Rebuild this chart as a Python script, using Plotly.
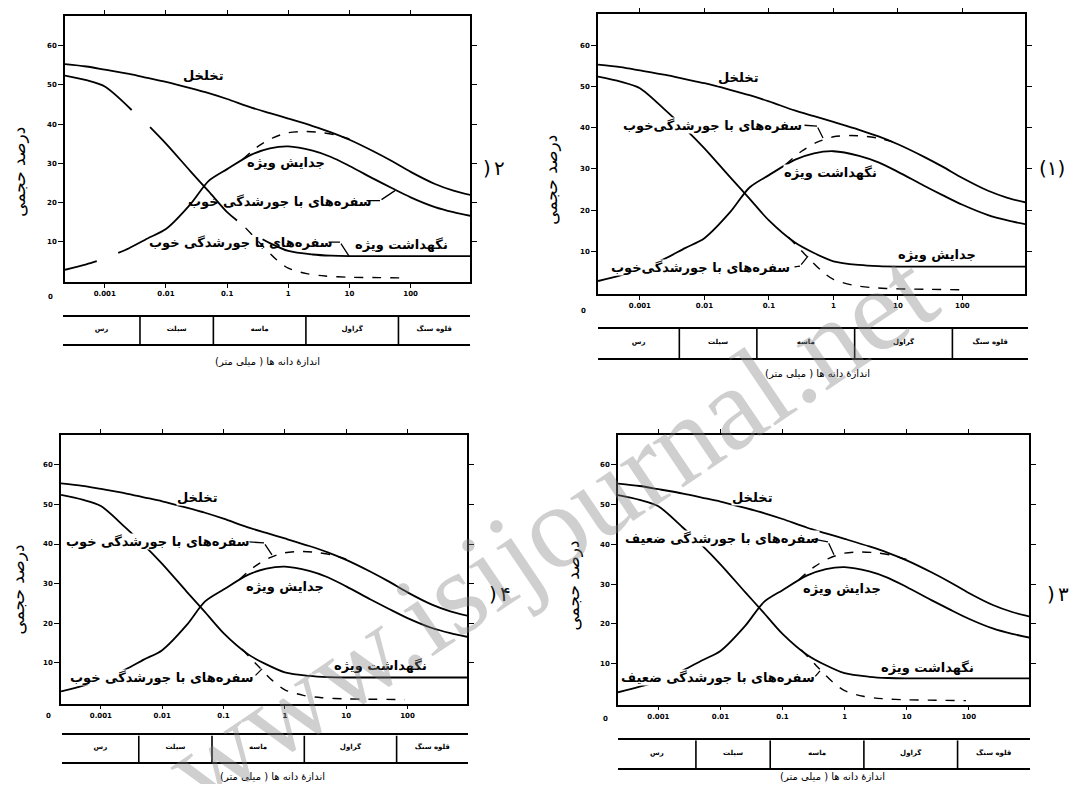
import numpy as np
import plotly.graph_objects as go

W, H = 1079, 792
PAD = 8                      # حاشیه پیش فرض body در صفحه html
FIG_W, FIG_H = W - 2 * PAD, H - 2 * PAD

# اندازه دانه (میلی متر) و درصد حجمی
GRAIN_MM = [0.000224, 0.0005, 0.001, 0.0025, 0.005, 0.01, 0.025, 0.05, 0.1, 0.25, 0.5,
            1, 2.5, 5, 10, 25, 50, 100, 250, 500, 1000]
POROSITY = [55.3, 54.7, 53.9, 52.8, 51.8, 50.8, 49.2, 47.9, 46.4, 44.2, 42.8,
            41.4, 39.5, 37.9, 36.0, 33.0, 30.5, 27.8, 24.7, 23.0, 21.8]
HUMP = [2.8, 4.2, 5.6, 8.3, 10.8, 13.2, 19.5, 25.5, 28.5, 32.2, 33.8,
        34.3, 33.2, 31.6, 29.3, 26.0, 23.6, 21.3, 18.8, 17.5, 16.5]
FALLING = [52.4, 51.2, 49.6, 44.2, 39.8, 35.0, 28.0, 22.8, 17.5, 12.2, 9.6,
           7.6, 6.7, 6.4, 6.3, 6.3, 6.3, 6.3, 6.3, 6.3, 6.3]

# خط چین ها (جورشدگی خوب)
UPPER_DASH_MM = [0.18, 0.32, 0.56, 1, 1.8, 3.2, 5.6, 10]
UPPER_DASH = [31.0, 34.3, 36.5, 37.8, 38.1, 37.9, 37.3, 36.2]
LOWER_DASH_MM = [0.2, 0.35, 0.63, 1, 2, 4, 10, 30, 90]
LOWER_DASH = [13.5, 9.5, 5.5, 3.2, 1.8, 1.2, 0.9, 0.8, 0.7]

# شکل (۲): منحنی های بریده
P2_HUMP_MM = [0.000224, 0.0005, 0.00074, None, 0.00166, 0.0025, 0.005, 0.01, 0.025, 0.05, 0.1,
              0.25, 0.5, 1, 2.5, 5, 10, 25, 50, 100, 250, 500, 1000]
P2_HUMP = [2.8, 4.2, 5.0, None, 7.1, 8.3, 10.8, 13.2, 19.5, 25.5, 28.5,
           32.2, 33.8, 34.3, 33.2, 31.6, 29.3, 26.0, 23.6, 21.3, 18.8, 17.5, 16.5]
P2_FALL_MM = [0.000224, 0.0005, 0.001, 0.00275, None, 0.0055, 0.01, 0.025, 0.05, 0.1, 0.145,
              None, 0.38, 0.5, 1, 2.5, 5, 10, 100, 1000]
P2_FALL = [52.4, 51.2, 49.6, 43.6, None, 39.2, 35.0, 28.0, 22.8, 17.5, 15.4,
           None, 10.6, 9.6, 7.6, 6.7, 6.4, 6.3, 6.3, 6.3]

# جدول رده بندی دانه ها
CLASS_EDGES_MM = [0.004, 0.0625, 2, 64]
CLASS_NAMES = ['رس', 'سیلت', 'ماسه', 'گراول', 'قلوه سنگ']

X_TICKS = [0.001, 0.01, 0.1, 1, 10, 100]
X_TICK_TEXT = ['0.001', '0.01', '0.1', '1', '10', '100']
Y_TICKS = [10, 20, 30, 40, 50, 60]

X_RANGE = [-3.65, 2.97]
Y_RANGE = [-0.3, 67.6]

T_POR = 'تخلخل'
T_SY = 'جدایش ویژه'
T_SR = 'نگهداشت ویژه'
T_GOOD = 'سفره‌های با جورشدگی خوب'
T_GOOD1 = 'سفره‌های با جورشدگی‌خوب'
T_POOR = 'سفره‌های با جورشدگی ضعیف'
Y_TITLE = 'درصد حجمی'
X_TITLE = 'اندازهٔ دانه ها ( میلی متر)'
PAREN = ')'   # در متن راست به چپ آینه ای نمایش داده می شود

FONT = 'DejaVu Sans'

# جای هر شکل روی صفحه (پیکسل)؛ شماره شکل تکه تکه نوشته می شود
PANELS = [
    dict(tag=[(PAREN, 487, 163), ('۲', 499, 163)],
         plot=(65, 10, 470, 278), table=(63, 313, 470, 341), broken=True,
         ytitle=(19, 167), xtitle=(267, 358), zero=(50, 293),
         labels=[(T_POR, 203, 70), (T_SY, 286, 158), (T_GOOD, 280, 197),
                 (T_GOOD, 241, 238), (T_SR, 401, 240)],
         leaders=[[(365, 196), (380, 196), (395, 186)], [(327, 238), (340, 238), (349, 252)]]),
    dict(tag=[('(۱)', 1052, 163)],
         plot=(598, 8, 1025, 290), table=(598, 325, 1028, 355), broken=False,
         ytitle=(551, 175), xtitle=(817, 370), zero=(583, 307),
         labels=[(T_POR, 738, 72), (T_GOOD1, 712, 120), (T_SR, 830, 168),
                 (T_SY, 937, 250), (T_GOOD1, 700, 263)],
         leaders=[[(803, 120), (817, 121), (823, 133)], [(793, 263), (800, 262), (808, 252)]]),
    dict(tag=[(PAREN, 493, 593), ('۴', 505, 593)],
         plot=(61, 432, 467, 703), table=(62, 735, 468, 762), broken=False,
         ytitle=(18, 588), xtitle=(272, 776), zero=(48, 715),
         labels=[(T_POR, 197, 495), (T_GOOD, 158, 540), (T_SY, 285, 585),
                 (T_SR, 380, 665), (T_GOOD, 162, 677)],
         leaders=[[(248, 540), (264, 541), (272, 553)], [(254, 676), (262, 668)]]),
    dict(tag=[(PAREN, 1051, 593), ('۳', 1063, 593)],
         plot=(618, 432, 1029, 704), table=(618, 740, 1030, 768), broken=False,
         ytitle=(573, 584), xtitle=(832, 776), zero=(605, 718),
         labels=[(T_POR, 752, 495), (T_POOR, 722, 537), (T_SY, 842, 587),
                 (T_SR, 927, 667), (T_POOR, 718, 677)],
         leaders=[[(812, 537), (828, 540), (834, 553)], [(814, 677), (820, 670)]]),
]


def fx(px):
    return (px - PAD) / FIG_W


def fy(py):
    return 1 - (py - PAD) / FIG_H


def clamp(v):
    return min(1.0, max(0.0, v))


def text_at(txt, px, py, size, bold=False, angle=0, bg='rgba(0,0,0,0)', color='black',
            family=FONT):
    return dict(text=txt, x=fx(px), y=fy(py), xref='paper', yref='paper',
                xanchor='center', yanchor='middle', showarrow=False, textangle=angle,
                bgcolor=bg, borderpad=0,
                font=dict(family=family, size=size, color=color,
                          weight='bold' if bold else 'normal'))


def curve(xs, ys, n, dash='solid', width=1.8):
    return go.Scatter(
        x=xs, y=ys, xaxis=f'x{n}', yaxis=f'y{n}', mode='lines',
        line=dict(color='black', width=width, dash=dash, shape='spline', smoothing=0.8),
        showlegend=False, hoverinfo='skip', connectgaps=False)


fig = go.Figure()
layout = dict(width=FIG_W, height=FIG_H, margin=dict(l=0, r=0, t=0, b=0),
              paper_bgcolor='white', plot_bgcolor='white', showlegend=False)
annotations = []

# مرز رده ها و مرکز هر خانه جدول
edges = [10 ** X_RANGE[0]] + CLASS_EDGES_MM + [10 ** X_RANGE[1]]
centers = [float(np.sqrt(edges[i] * edges[i + 1])) for i in range(len(edges) - 1)]
div_x, div_y = [], []
for b in CLASS_EDGES_MM:
    div_x += [b, b, None]
    div_y += [0, 1, None]

for i, p in enumerate(PANELS):
    n = i + 1      # محور نمودار
    m = i + 5      # محور جدول
    x0, y0, x1, y1 = p['plot']
    tx0, ty0, tx1, ty1 = p['table']

    layout[f'xaxis{n}'] = dict(
        domain=[clamp(fx(x0)), clamp(fx(x1))], anchor=f'y{n}', type='log', range=X_RANGE,
        tickvals=X_TICKS, ticktext=X_TICK_TEXT, ticks='outside', ticklen=4,
        tickwidth=1, tickcolor='black', showline=True, linecolor='black', linewidth=1.6,
        mirror='ticks', showgrid=False, zeroline=False,
        tickfont=dict(family=FONT, size=7, color='black', weight='bold'))
    layout[f'yaxis{n}'] = dict(
        domain=[clamp(fy(y1)), clamp(fy(y0))], anchor=f'x{n}', range=Y_RANGE,
        tickvals=Y_TICKS, ticks='outside', ticklen=5, tickwidth=1, tickcolor='black',
        showline=True, linecolor='black', linewidth=1.6, mirror='ticks',
        showgrid=False, zeroline=False,
        tickfont=dict(family=FONT, size=7, color='black', weight='bold'))
    layout[f'xaxis{m}'] = dict(
        domain=[clamp(fx(tx0)), clamp(fx(tx1))], anchor=f'y{m}', type='log', range=X_RANGE,
        showline=True, linecolor='black', linewidth=2, mirror=True,
        showticklabels=False, ticks='', showgrid=False, zeroline=False)
    layout[f'yaxis{m}'] = dict(
        domain=[clamp(fy(ty1)), clamp(fy(ty0))], anchor=f'x{m}', range=[0, 1],
        showline=False, showticklabels=False, ticks='', showgrid=False, zeroline=False)

    # منحنی ها
    fig.add_trace(curve(GRAIN_MM, POROSITY, n))
    if p['broken']:
        fig.add_trace(curve(P2_HUMP_MM, P2_HUMP, n))
        fig.add_trace(curve(P2_FALL_MM, P2_FALL, n))
    else:
        fig.add_trace(curve(GRAIN_MM, HUMP, n))
        fig.add_trace(curve(GRAIN_MM, FALLING, n))
    fig.add_trace(curve(UPPER_DASH_MM, UPPER_DASH, n, dash='dash', width=1.4))
    fig.add_trace(curve(LOWER_DASH_MM, LOWER_DASH, n, dash='dash', width=1.4))

    # جدول
    fig.add_trace(go.Scatter(x=div_x, y=div_y, xaxis=f'x{m}', yaxis=f'y{m}', mode='lines',
                             line=dict(color='black', width=1.6), hoverinfo='skip'))
    fig.add_trace(go.Scatter(x=centers, y=[0.55] * len(centers), xaxis=f'x{m}', yaxis=f'y{m}',
                             mode='text', text=CLASS_NAMES, hoverinfo='skip',
                             textfont=dict(family=FONT, size=7, color='black', weight='bold')))

    # برچسب ها
    bg = 'rgba(0,0,0,0)' if p['broken'] else 'white'
    for txt, lx, ly in p['labels']:
        annotations.append(text_at(txt, lx, ly, 13, bold=True, bg=bg))
    for pts in p['leaders']:
        for (ax_, ay_), (bx, by) in zip(pts[:-1], pts[1:]):
            annotations.append(dict(
                text='', x=fx(bx), y=fy(by), xref='paper', yref='paper',
                ax=ax_ - bx, ay=ay_ - by, showarrow=True, arrowhead=0,
                arrowwidth=1.3, arrowcolor='black', standoff=0, startstandoff=0))

    for txt, tx, ty in p['tag']:
        annotations.append(text_at(txt, tx, ty, 20))
    annotations.append(text_at(Y_TITLE, *p['ytitle'], 17, angle=-90))
    annotations.append(text_at(X_TITLE, *p['xtitle'], 10))
    annotations.append(text_at('0', *p['zero'], 7, bold=True))

# واترمارک
annotations.append(text_at('www.isijournal.net', 550, 528, 118, angle=-34,
                           color='rgba(130,130,130,0.38)', family='Liberation Serif'))

layout['annotations'] = annotations
fig.update_layout(**layout)
fig.write_html('out.html')
